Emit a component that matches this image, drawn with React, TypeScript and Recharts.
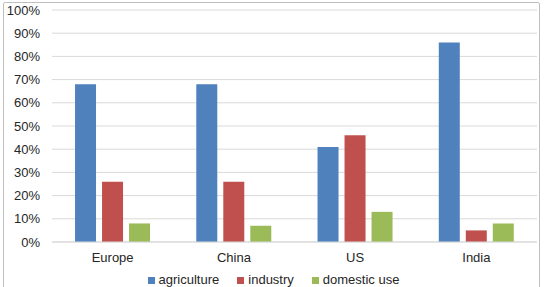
import React from 'react';
import { BarChart, Bar, XAxis, YAxis, CartesianGrid, Legend } from 'recharts';

const regions = ['Europe', 'China', 'US', 'India'];
const agriculture = [68, 68, 41, 86];
const industry = [26, 26, 46, 5];
const domesticUse = [8, 7, 13, 8];
const yTicks = [0, 10, 20, 30, 40, 50, 60, 70, 80, 90, 100];
const seriesOrder = ['agriculture', 'industry', 'domestic'];

const data = regions.map((name, i) => ({
  name,
  agriculture: agriculture[i],
  industry: industry[i],
  domestic: domesticUse[i],
}));

const font = { fontFamily: 'Liberation Sans, Arial, sans-serif', fontSize: 13, fill: '#262626' };

export default function App() {
  return (
    <div style={{ position: 'absolute', left: 0, top: 0, width: 544, height: 287, background: '#fff', overflow: 'hidden' }}>
      <div style={{ position: 'absolute', left: 3, top: 2, width: 535, height: 300, border: '1px solid #bfbfbf', borderRadius: 2 }} />
      <BarChart
        width={544}
        height={287}
        data={data}
        margin={{ top: 10, right: 7, left: 0, bottom: 0 }}
        barCategoryGap="19%"
        barGap={6}
        style={{ position: 'absolute', left: 0, top: 0 }}
      >
        <CartesianGrid vertical={false} stroke="#d9d9d9" />
        <XAxis
          dataKey="name"
          tickLine={false}
          axisLine={{ stroke: '#d9d9d9' }}
          tick={font}
          tickMargin={5}
          height={31}
        />
        <YAxis
          domain={[0, 100]}
          ticks={yTicks}
          interval={0}
          tickFormatter={(v: number) => `${v}%`}
          tickLine={false}
          axisLine={false}
          tick={font}
          tickMargin={6}
          width={52}
        />
        <Legend
          verticalAlign="bottom"
          height={14}
          iconType="square"
          iconSize={7}
          itemSorter={(item: any) => seriesOrder.indexOf(item.dataKey)}
          wrapperStyle={{ fontFamily: 'Liberation Sans, Arial, sans-serif', fontSize: 13, lineHeight: '14px', paddingLeft: 14 }}
          formatter={(value: string) => <span style={{ color: '#262626', paddingRight: 8 }}>{value}</span>}
        />
        <Bar dataKey="agriculture" name="agriculture" fill="#4f81bd" isAnimationActive={false} />
        <Bar dataKey="industry" name="industry" fill="#c0504d" isAnimationActive={false} />
        <Bar dataKey="domestic" name="domestic use" fill="#9bbb59" isAnimationActive={false} />
      </BarChart>
    </div>
  );
}
